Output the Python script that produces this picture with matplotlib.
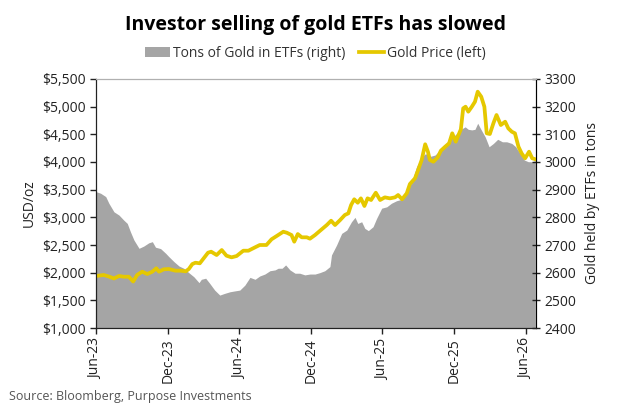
import matplotlib
matplotlib.use("Agg")
import matplotlib.pyplot as plt
import matplotlib.dates as mdates
from matplotlib.patches import Patch
from matplotlib.lines import Line2D
from matplotlib.ticker import FuncFormatter, MultipleLocator
import pandas as pd

plt.rcParams["font.family"] = ["Open Sans", "DejaVu Sans"]

# gold price, USD/oz (left axis)
price_dates = [
    "2023-06-01", "2023-06-21", "2023-07-04", "2023-07-17", "2023-07-30",
    "2023-08-11", "2023-08-24", "2023-09-04", "2023-09-14", "2023-09-27",
    "2023-10-10", "2023-10-23", "2023-11-02", "2023-11-09", "2023-11-21",
    "2023-12-04", "2023-12-21", "2024-01-03", "2024-01-16", "2024-01-24",
    "2024-02-02", "2024-02-10", "2024-02-21", "2024-03-02", "2024-03-13",
    "2024-03-21", "2024-04-04", "2024-04-17", "2024-04-29", "2024-05-12",
    "2024-05-25", "2024-06-11", "2024-06-24", "2024-07-11", "2024-07-23",
    "2024-08-09", "2024-08-22", "2024-09-04", "2024-09-21", "2024-09-30",
    "2024-10-12", "2024-10-19", "2024-10-28", "2024-11-07", "2024-11-20",
    "2024-11-28", "2024-12-11", "2024-12-25", "2025-01-10", "2025-01-21",
    "2025-01-31", "2025-02-13", "2025-02-25", "2025-03-06", "2025-03-13",
    "2025-03-21", "2025-03-30", "2025-04-07", "2025-04-16", "2025-04-24",
    "2025-05-03", "2025-05-15", "2025-05-26", "2025-06-07", "2025-06-20",
    "2025-07-03", "2025-07-11", "2025-07-21", "2025-08-02", "2025-08-10",
    "2025-08-23", "2025-08-31", "2025-09-09", "2025-09-18", "2025-09-25",
    "2025-09-30", "2025-10-09", "2025-10-20", "2025-10-28", "2025-11-08",
    "2025-11-18", "2025-11-26", "2025-12-05", "2025-12-12", "2025-12-18",
    "2025-12-24", "2025-12-30", "2026-01-06", "2026-01-15", "2026-01-23",
    "2026-01-30", "2026-02-08", "2026-02-16", "2026-02-22", "2026-03-02",
    "2026-03-11", "2026-03-19", "2026-03-30", "2026-04-10", "2026-04-18",
    "2026-04-27", "2026-05-05", "2026-05-14", "2026-05-22", "2026-05-31",
    "2026-06-10", "2026-06-18", "2026-06-26",
]
gold_price = [
    1940, 1958, 1930, 1895, 1940,
    1927, 1927, 1840, 1958, 2018,
    1976, 2018, 2079, 2018, 2061,
    2066, 2036, 2036, 2024, 2066,
    2156, 2180, 2169, 2260, 2361,
    2379, 2319, 2409, 2307, 2277,
    2301, 2397, 2397, 2458, 2500,
    2500, 2603, 2662, 2740, 2722,
    2680, 2560, 2698, 2639, 2639,
    2614, 2680, 2765, 2861, 2939,
    2861, 2951, 3042, 3072, 3223,
    3326, 3264, 3343, 3205, 3343,
    3313, 3445, 3313, 3361, 3343,
    3361, 3403, 3326, 3434, 3602,
    3705, 3855, 4036, 4320, 4186,
    4036, 4005, 4084, 4204, 4276,
    4337, 4518, 4367, 4488, 4590,
    4970, 4999, 4909, 4999, 5089,
    5270, 5180, 4999, 4518, 4506,
    4699, 4849, 4668, 4728, 4608,
    4547, 4518, 4276, 4157, 4067,
    4186, 4067, 4049,
]

# gold held by ETFs, tons (right axis)
etf_dates = [
    "2023-06-01", "2023-06-13", "2023-06-26", "2023-07-04", "2023-07-17",
    "2023-07-30", "2023-08-11", "2023-08-20", "2023-08-28", "2023-09-06",
    "2023-09-19", "2023-10-01", "2023-10-14", "2023-10-23", "2023-10-31",
    "2023-11-13", "2023-11-26", "2023-12-04", "2023-12-17", "2023-12-30",
    "2024-01-11", "2024-01-24", "2024-02-06", "2024-02-19", "2024-02-25",
    "2024-03-07", "2024-03-17", "2024-03-30", "2024-04-12", "2024-04-24",
    "2024-05-08", "2024-05-20", "2024-06-02", "2024-06-15", "2024-06-28",
    "2024-07-11", "2024-07-23", "2024-08-05", "2024-08-18", "2024-08-31",
    "2024-09-08", "2024-09-18", "2024-09-27", "2024-10-08", "2024-10-21",
    "2024-11-02", "2024-11-15", "2024-11-28", "2024-12-11", "2024-12-23",
    "2025-01-05", "2025-01-18", "2025-01-22", "2025-02-04", "2025-02-17",
    "2025-03-02", "2025-03-14", "2025-03-23", "2025-03-30", "2025-04-09",
    "2025-04-17", "2025-04-26", "2025-05-08", "2025-05-17", "2025-05-30",
    "2025-06-12", "2025-06-24", "2025-07-07", "2025-07-20", "2025-08-02",
    "2025-08-15", "2025-08-27", "2025-09-09", "2025-09-19", "2025-09-30",
    "2025-10-13", "2025-10-26", "2025-11-08", "2025-11-20", "2025-12-03",
    "2025-12-16", "2025-12-29", "2026-01-06", "2026-01-15", "2026-01-23",
    "2026-01-30", "2026-02-08", "2026-02-18", "2026-02-28", "2026-03-11",
    "2026-03-22", "2026-04-03", "2026-04-14", "2026-04-27", "2026-05-07",
    "2026-05-18", "2026-05-29", "2026-06-08", "2026-06-18", "2026-06-26",
]
etf_tons = [
    2893, 2887, 2875, 2851, 2820,
    2808, 2790, 2778, 2748, 2718,
    2688, 2696, 2708, 2712, 2692,
    2687, 2670, 2658, 2640, 2624,
    2616, 2600, 2585, 2564, 2576,
    2580, 2562, 2537, 2519, 2525,
    2531, 2534, 2537, 2555, 2583,
    2576, 2588, 2595, 2607, 2610,
    2616, 2616, 2628, 2610, 2598,
    2598, 2592, 2595, 2595, 2600,
    2607, 2622, 2664, 2700, 2742,
    2754, 2784, 2800, 2778, 2784,
    2760, 2752, 2766, 2796, 2833,
    2838, 2851, 2860, 2865, 2887,
    2929, 2983, 3019, 3030, 3020,
    3025, 3043, 3061, 3086, 3097,
    3116, 3127, 3118, 3116, 3118,
    3140, 3116, 3091, 3055, 3067,
    3082, 3073, 3073, 3067, 3055,
    3031, 3007, 3001, 3001, 3005,
]

price_dates = pd.to_datetime(price_dates)
etf_dates = pd.to_datetime(etf_dates)

gray = "#a5a5a5"
gold = "#e5c800"

fig = plt.figure(figsize=(6.31, 4.17), dpi=100)
ax = fig.add_axes([0.152, 0.2134, 0.697, 0.5972])
ax2 = ax.twinx()

ax2.fill_between(etf_dates, 2400, etf_tons, color=gray, linewidth=0)
ax.plot(price_dates, gold_price, color=gold, linewidth=2.7, solid_joinstyle="round")

# line on top of the area
ax.set_zorder(ax2.get_zorder() + 1)
ax.patch.set_visible(False)

ax.set_xlim(pd.Timestamp("2023-06-01"), pd.Timestamp("2026-06-27"))
ax.set_ylim(1000, 5500)
ax2.set_ylim(2400, 3300)
ax.yaxis.set_major_locator(MultipleLocator(500))
ax2.yaxis.set_major_locator(MultipleLocator(100))
ax.yaxis.set_major_formatter(FuncFormatter(lambda v, p: "${:,.0f}".format(v)))

ax.xaxis.set_major_locator(mdates.MonthLocator(bymonth=[6, 12], bymonthday=1))
ax.xaxis.set_major_formatter(mdates.DateFormatter("%b-%y"))
plt.setp(ax.get_xticklabels(), rotation=90)

for a in (ax, ax2):
    a.tick_params(labelsize=10, colors="#222222", length=4, width=1)
ax2.tick_params(axis="y", direction="inout", length=6)

ax.spines["top"].set_color("#b0b0b0")
ax2.spines["top"].set_color("#b0b0b0")
ax.spines["left"].set_color("#222222")
ax.spines["bottom"].set_color("#222222")
ax2.spines["right"].set_color("#444444")

ax.set_ylabel("USD/oz", fontsize=10, color="#222222")
ax2.set_ylabel("Gold held by ETFs in tons", fontsize=10, color="#222222", labelpad=6)

fig.suptitle("Investor selling of gold ETFs has slowed", x=0.5, y=0.965,
             fontsize=14, fontweight="bold")

handles = [Patch(facecolor=gray, edgecolor="none"),
           Line2D([0], [0], color=gold, linewidth=2.7)]
fig.legend(handles, ["Tons of Gold in ETFs (right)", "Gold Price (left)"],
           loc="center", bbox_to_anchor=(0.5, 0.872), ncol=2, frameon=False,
           fontsize=10, handlelength=1.8, handletextpad=0.2, columnspacing=1.0,
           labelcolor="#333333")

fig.text(0.015, 0.04, "Source: Bloomberg, Purpose Investments", fontsize=9,
         color="#555555")

fig.savefig("out.png", dpi=100)
